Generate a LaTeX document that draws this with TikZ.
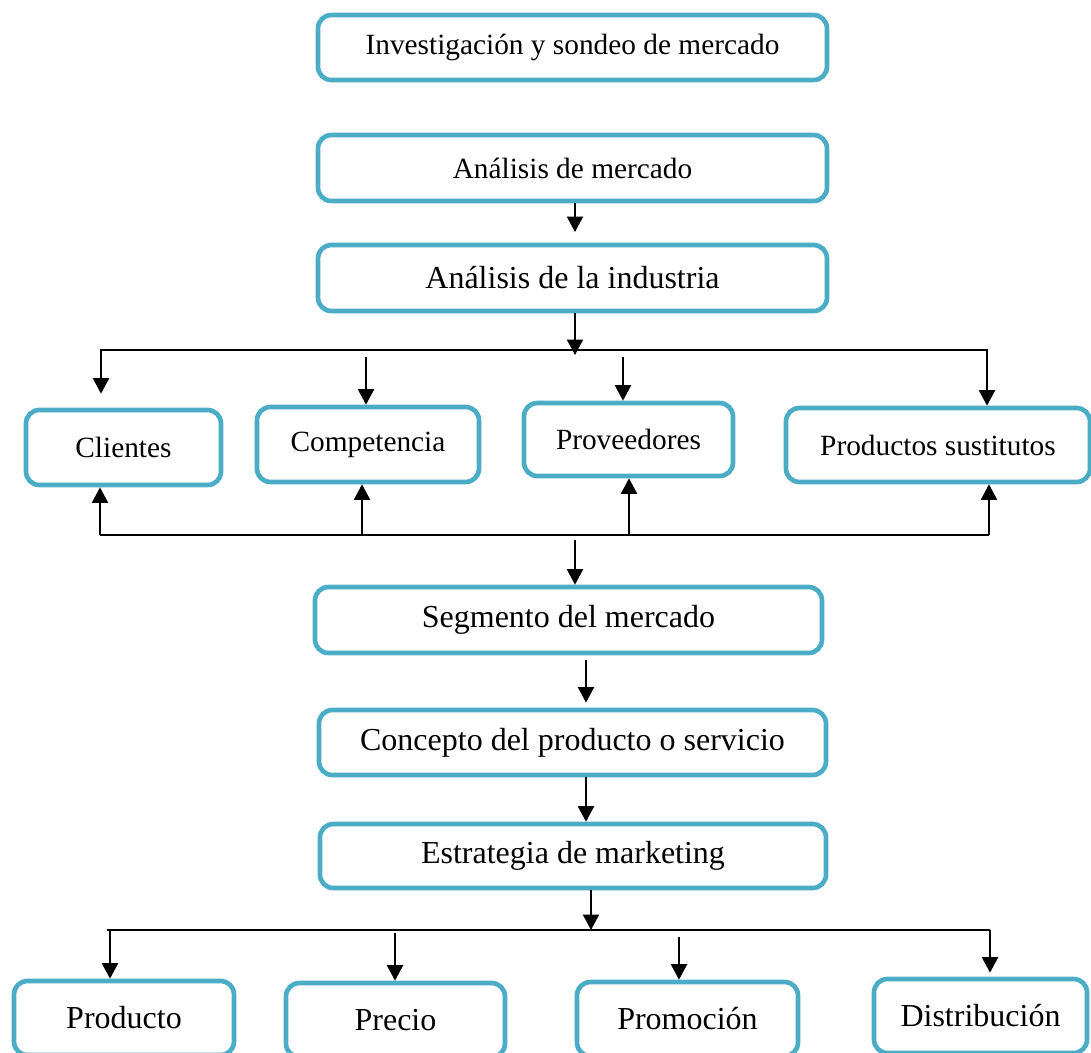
\documentclass[tikz,border=0pt]{standalone}
\usepackage{fontspec}
\setmainfont{Liberation Serif}
\usetikzlibrary{arrows.meta}
\definecolor{frameblue}{RGB}{75,172,198}
\begin{document}
\begin{tikzpicture}[x=0.375pt,y=-0.375pt,
  box/.style={draw=frameblue, line width=1.75pt, rounded corners=5pt, fill=white,
              inner sep=0pt, align=center},
  wh/.style 2 args={minimum width=#1*0.375pt, minimum height=#2*0.375pt},
  txs/.style={font=\fontsize{11}{13}\selectfont},
  txl/.style={font=\fontsize{12}{14}\selectfont},
  link/.style={line width=0.75pt, draw=black},
  arr/.style={link, -{Triangle[length=5.8pt,width=6pt]}},
  arrtwo/.style={link, {Triangle[length=5.8pt,width=6pt]}-{Triangle[length=5.8pt,width=6pt]}}
]
\useasboundingbox (0,0) rectangle (1091,1052);
\clip (0,0) rectangle (1091,1052);

% main column
\node[box,txs,wh={509}{65}] (inv)  at (572.5,47.5) {Investigación y sondeo de mercado};
\node[box,txs,wh={509}{66}] (amer) at (572.5,168)  {Análisis de mercado};
\node[box,txl,wh={509}{66}] (aind) at (572.5,278)  {Análisis de la industria};

% the four forces
\node[box,txs,wh={195}{75}] (cli)  at (123.5,447.5) {Clientes};
\node[box,txs,wh={222}{75}] (comp) at (368,444.5)   {Competencia};
\node[box,txs,wh={209}{73}] (prov) at (628.5,439.5) {Proveedores};
\node[box,txs,wh={304}{74}] (sust) at (938,445)     {Productos sustitutos};

% lower column
\node[box,txl,wh={507}{66}] (seg)  at (568.5,620)  {Segmento del mercado};
\node[box,txl,wh={507}{65}] (conc) at (572.5,742.5) {Concepto del producto o servicio};
\node[box,txl,wh={506}{64}] (estr) at (573,856)    {Estrategia de marketing};

% marketing mix
\node[box,txl,wh={220}{74}] (prod) at (124,1018)   {Producto};
\node[box,txl,wh={219}{74}] (prec) at (395.5,1020) {Precio};
\node[box,txl,wh={221}{74}] (prom) at (687.5,1019) {Promoción};
\node[box,txl,wh={213}{74}] (dist) at (980.5,1016) {Distribución};

% market analysis -> industry analysis
\coordinate (a1) at (575,232);
\draw[arr] (amer.south -| a1) -- (a1);

% industry analysis -> upper branch line
\coordinate (a2) at (575,355);
\draw[arr] (aind.south -| a2) -- (a2);

% upper branch line
\coordinate (ul) at (101,350);
\coordinate (ur) at (987,350);
\draw[arrtwo, shorten <=5.25pt] (ul |- cli.north) -- (ul) -- (ur) -- (ur |- sust.north);
\coordinate (c1) at (366,357);
\draw[arr] (c1) -- (c1 |- comp.north);
\coordinate (c2) at (623,357);
\draw[arr] (c2) -- (c2 |- prov.north);

% lower branch line with feedback arrows
\coordinate (ll) at (100,535);
\coordinate (lr) at (989,535);
\draw[link] (ll) -- (lr);
\draw[arr] (ll) -- (ll |- cli.south);
\coordinate (lc) at (362,535);
\draw[arr] (lc) -- (lc |- comp.south);
\coordinate (lp) at (629,535);
\draw[arr] (lp) -- (lp |- prov.south);
\draw[arr] (lr) -- (lr |- sust.south);

% down to market segment
\coordinate (d1) at (575,540);
\draw[arr] (d1) -- (d1 |- seg.north);

% segment -> concept -> strategy
\coordinate (d2) at (586,0);
\draw[arr, shorten <=1.9pt, shorten >=1.9pt] (seg.south -| d2) -- (conc.north -| d2);
\draw[arr] (conc.south -| d2) -- (estr.north -| d2);

% strategy -> mix branch line
\coordinate (d3) at (591,930);
\draw[arr] (estr.south -| d3) -- (d3);
\coordinate (bl) at (107,930);
\coordinate (br) at (990,930);
\draw[link] (bl) -- (br);
\coordinate (m1) at (110,931);
\draw[arr] (m1) -- (m1 |- prod.north);
\coordinate (m2) at (395,933);
\draw[arr] (m2) -- (m2 |- prec.north);
\coordinate (m3) at (679,937);
\draw[arr] (m3) -- (m3 |- prom.north);
\draw[arr, shorten >=1.5pt] (br) -- (br |- dist.north);
\end{tikzpicture}
\end{document}
